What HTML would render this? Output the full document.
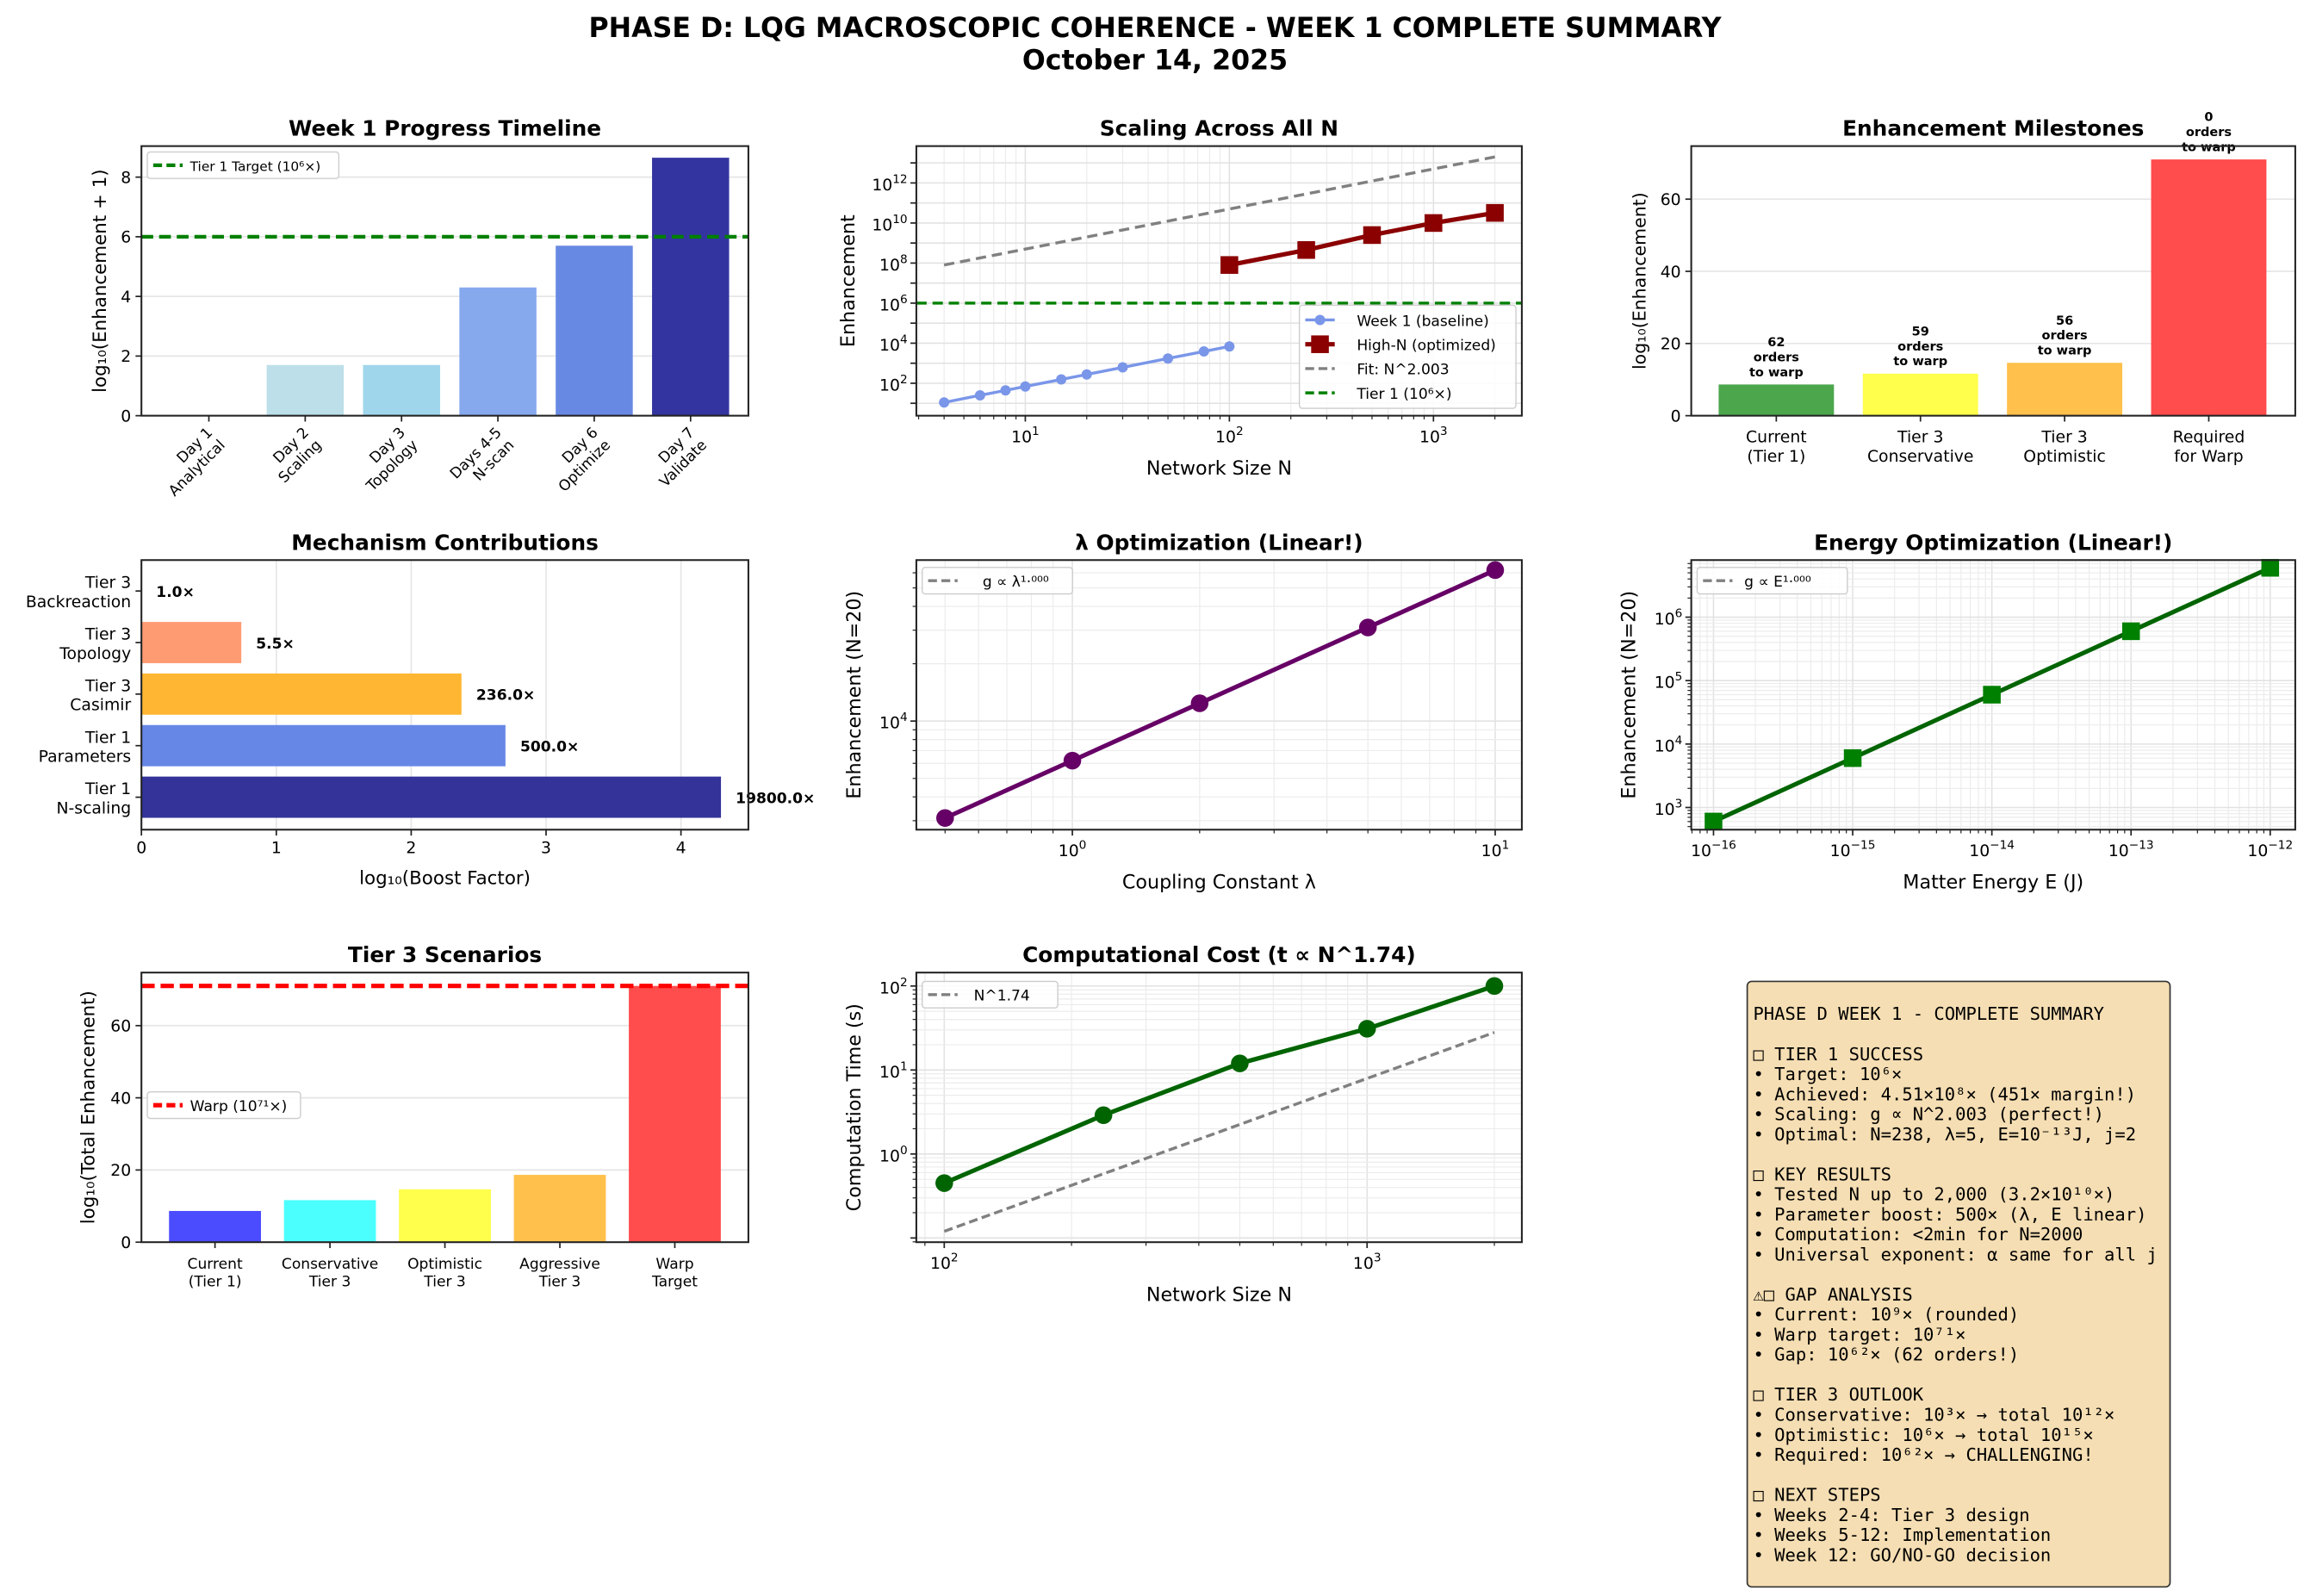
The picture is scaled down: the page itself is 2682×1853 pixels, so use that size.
<!DOCTYPE html>
<html><head><meta charset="utf-8"><title>Phase D Week 1 Summary</title>
<style>
html,body{margin:0;padding:0;background:#fff;}
svg{display:block;font-family:"DejaVu Sans","Liberation Sans",sans-serif;}
.mono{font-family:"DejaVu Sans Mono","Liberation Mono",monospace;}
</style></head>
<body>
<svg id="fig" width="2682" height="1853" viewBox="0 0 1568 1083" xmlns="http://www.w3.org/2000/svg">
<text x="784" y="25" text-anchor="middle" font-size="18.5" font-weight="bold">PHASE D: LQG MACROSCOPIC COHERENCE - WEEK 1 COMPLETE SUMMARY</text>
<text x="784" y="47" text-anchor="middle" font-size="18.5" font-weight="bold">October 14, 2025</text>
<g>
<rect x="1186" y="666" width="287" height="411" rx="3" fill="#f5deb3" stroke="#333" stroke-width="1"/>
<text class="mono" font-size="12" fill="#000" x="1190">
<tspan x="1190" y="692">PHASE D WEEK 1 - COMPLETE SUMMARY</tspan>
<tspan x="1190" y="719.4">□ TIER 1 SUCCESS</tspan>
<tspan x="1190" y="733">• Target: 10⁶×</tspan>
<tspan x="1190" y="746.6">• Achieved: 4.51×10⁸× (451× margin!)</tspan>
<tspan x="1190" y="760.2">• Scaling: g ∝ N^2.003 (perfect!)</tspan>
<tspan x="1190" y="773.8">• Optimal: N=238, λ=5, E=10⁻¹³J, j=2</tspan>
<tspan x="1190" y="801">□ KEY RESULTS</tspan>
<tspan x="1190" y="814.6">• Tested N up to 2,000 (3.2×10¹⁰×)</tspan>
<tspan x="1190" y="828.2">• Parameter boost: 500× (λ, E linear)</tspan>
<tspan x="1190" y="841.8">• Computation: &lt;2min for N=2000</tspan>
<tspan x="1190" y="855.4">• Universal exponent: α same for all j</tspan>
<tspan x="1190" y="882.6">⚠□ GAP ANALYSIS</tspan>
<tspan x="1190" y="896.2">• Current: 10⁹× (rounded)</tspan>
<tspan x="1190" y="909.8">• Warp target: 10⁷¹×</tspan>
<tspan x="1190" y="923.4">• Gap: 10⁶²× (62 orders!)</tspan>
<tspan x="1190" y="950.6">□ TIER 3 OUTLOOK</tspan>
<tspan x="1190" y="964.2">• Conservative: 10³× → total 10¹²×</tspan>
<tspan x="1190" y="977.8">• Optimistic: 10⁶× → total 10¹⁵×</tspan>
<tspan x="1190" y="991.4">• Required: 10⁶²× → CHALLENGING!</tspan>
<tspan x="1190" y="1018.6">□ NEXT STEPS</tspan>
<tspan x="1190" y="1032.2">• Weeks 2-4: Tier 3 design</tspan>
<tspan x="1190" y="1045.8">• Weeks 5-12: Implementation</tspan>
<tspan x="1190" y="1059.4">• Week 12: GO/NO-GO decision</tspan>
</text>
</g>
</svg>
<script>
// ---------- data ----------
const timelineCats = [["Day 1","Analytical"],["Day 2","Scaling"],["Day 3","Topology"],["Days 4-5","N-scan"],["Day 6","Optimize"],["Day 7","Validate"]];
const timelineVals = [0, 1.7, 1.7, 4.3, 5.7, 8.65];
const timelineTarget = 6;
const baselineN = [4, 6, 8, 10, 15, 20, 30, 50, 75, 100];
const baselineG = [11, 25, 44, 69, 155, 275, 620, 1720, 3870, 6880];
const highN = [100, 238, 500, 1000, 2000];
const highG = [8e7, 4.5e8, 2.5e9, 1e10, 3.2e10];
const fitN = [4, 2000];
const fitG = [8e7, 2e13];
const tier1Line = 1e6;
const milestoneCats = [["Current","(Tier 1)"],["Tier 3","Conservative"],["Tier 3","Optimistic"],["Required","for Warp"]];
const milestoneVals = [8.65, 11.65, 14.65, 71];
const milestoneNotes = ["62","59","56","0"];
const mechCats = [["Tier 1","N-scaling"],["Tier 1","Parameters"],["Tier 3","Casimir"],["Tier 3","Topology"],["Tier 3","Backreaction"]];
const mechBoost = [19800, 500, 236, 5.5, 1.0];
const lambdaVals = [0.5, 1, 2, 5, 10];
const lambdaG = [3100, 6200, 12400, 31000, 62000];
const energyVals = [1e-16, 1e-15, 1e-14, 1e-13, 1e-12];
const energyG = [600, 6000, 60000, 600000, 6000000];
const scenarioCats = [["Current","(Tier 1)"],["Conservative","Tier 3"],["Optimistic","Tier 3"],["Aggressive","Tier 3"],["Warp","Target"]];
const scenarioVals = [8.65, 11.65, 14.65, 18.65, 71];
const warpLine = 71;
const costN = [100, 238, 500, 1000, 2000];
const costT = [0.45, 2.9, 12, 31, 100];
const costFitN = [100, 2000];
const costFitT = [0.12, 28];

// ---------- helpers ----------
const NS = 'http://www.w3.org/2000/svg';
const svg = document.getElementById('fig');
function mk(tag, attrs, name, parent) {
  const el = document.createElementNS(NS, tag);
  for (const k in attrs) el.setAttribute(k, attrs[k]);
  
  
  (parent || svg).appendChild(el);
  return el;
}
function txt(x, y, s, attrs, name, parent) {
  const t = mk('text', Object.assign({x: x, y: y}, attrs), name, parent);
  t.textContent = s;
  return t;
}
function lin(d0, d1, r0, r1) { return v => r0 + (v - d0) / (d1 - d0) * (r1 - r0); }
function lg(d0, d1, r0, r1) { return v => r0 + (Math.log10(v) - d0) / (d1 - d0) * (r1 - r0); }
function pow10(x, y, e, anchor, name, g) {
  const t = mk('text', {x: x, y: y, 'text-anchor': anchor, 'font-size': 11}, name, g);
  t.appendChild(document.createTextNode('10'));
  const ts = document.createElementNS(NS, 'tspan');
  ts.setAttribute('font-size', 8);
  ts.setAttribute('dy', -5);
  ts.textContent = String(e).replace('-', '\u2212');
  t.appendChild(ts);
}
function frame(p, name, g) {
  mk('rect', {x: p.x0, y: p.y0, width: p.x1 - p.x0, height: p.y1 - p.y0, fill: 'none', stroke: '#222', 'stroke-width': 1.2}, name, g);
}
function title(p, s, name, g) {
  txt((p.x0 + p.x1) / 2, p.y0 - 7, s, {'text-anchor': 'middle', 'font-size': 14.5, 'font-weight': 'bold'}, name, g);
}
function hline(p, y, stroke, w, name, g, dash) {
  const a = {x1: p.x0, x2: p.x1, y1: y, y2: y, stroke: stroke, 'stroke-width': w};
  if (dash) a['stroke-dasharray'] = dash;
  return mk('line', a, name, g);
}
function vline(p, x, stroke, w, name, g) {
  return mk('line', {x1: x, x2: x, y1: p.y0, y2: p.y1, stroke: stroke, 'stroke-width': w}, name, g);
}
function ytick(p, y, label, name, g) {
  mk('line', {x1: p.x0 - 4, x2: p.x0, y1: y, y2: y, stroke: '#222', 'stroke-width': 1}, name + '-mark', g);
  if (label !== null) txt(p.x0 - 7, y + 4, label, {'text-anchor': 'end', 'font-size': 11}, name + '-label', g);
}
function xtick(p, x, label, name, g) {
  mk('line', {x1: x, x2: x, y1: p.y1, y2: p.y1 + 4, stroke: '#222', 'stroke-width': 1}, name + '-mark', g);
  if (label !== null) txt(x, p.y1 + 16, label, {'text-anchor': 'middle', 'font-size': 11}, name + '-label', g);
}
function logGrid(p, sx, sy, xr, yr, minorX, minorY, g) {
  if (xr) for (let d = xr[0]; d <= xr[1]; d++) for (let m = 1; m < 10; m++) {
    if (m > 1 && !minorX) continue;
    const x = sx(m * Math.pow(10, d));
    if (x < p.x0 || x > p.x1) continue;
    vline(p, x, m === 1 ? '#e2e2e2' : '#ececec', m === 1 ? 0.9 : 0.7, 'x-grid-line', g);
    mk('line', {x1: x, x2: x, y1: p.y1, y2: p.y1 + (m === 1 ? 4 : 2.5), stroke: '#222', 'stroke-width': m === 1 ? 1 : 0.7}, 'x-tick-mark', g);
  }
  if (yr) for (let d = yr[0]; d <= yr[1]; d++) for (let m = 1; m < 10; m++) {
    if (m > 1 && !minorY) continue;
    const y = sy(m * Math.pow(10, d));
    if (y < p.y0 || y > p.y1) continue;
    hline(p, y, m === 1 ? '#e2e2e2' : '#ececec', m === 1 ? 0.9 : 0.7, 'y-grid-line', g);
    mk('line', {x1: p.x0 - (m === 1 ? 4 : 2.5), x2: p.x0, y1: y, y2: y, stroke: '#222', 'stroke-width': m === 1 ? 1 : 0.7}, 'y-tick-mark', g);
  }
}
function legendBox(x, y, w, h, name, g) {
  return mk('rect', {x: x, y: y, width: w, height: h, rx: 2, fill: '#fff', 'fill-opacity': 0.85, stroke: '#ccc', 'stroke-width': 0.8}, name, g);
}
function polyline(xs, ys, sx, sy, attrs, name, g) {
  const pts = xs.map((v, i) => sx(v).toFixed(2) + ',' + sy(ys[i]).toFixed(2)).join(' ');
  return mk('polyline', Object.assign({points: pts, fill: 'none'}, attrs), name, g);
}
function twoLine(x, y, lines, fs, name, g, attrs) {
  const t = mk('text', Object.assign({x: x, y: y, 'text-anchor': 'middle', 'font-size': fs}, attrs || {}), name, g);
  lines.forEach((s, i) => {
    const ts = document.createElementNS(NS, 'tspan');
    ts.setAttribute('x', x);
    ts.setAttribute('dy', i === 0 ? 0 : fs * 1.2);
    ts.textContent = s;
    t.appendChild(ts);
  });
  return t;
}

// ---------- Panel 1: timeline ----------
(function () {
  const p = {x0: 96, x1: 508, y0: 99, y1: 282};
  const g = mk('g', {}, 'timeline-panel');
  const sx = lin(-0.7, 5.6, p.x0, p.x1), sy = lin(0, 9.04, p.y1, p.y0);
  [0, 2, 4, 6, 8].forEach(v => { hline(p, sy(v), '#e6e6e6', 1, 'y-grid-line', g); ytick(p, sy(v), String(v), 'y-tick', g); });
  const cols = ['#c0dfea', '#bcdfe9', '#a0d6ec', '#86a9ee', '#6889e3', '#3434a0'];
  timelineVals.forEach((v, i) => {
    const bw = 0.8 * (sx(1) - sx(0));
    mk('rect', {x: sx(i) - bw / 2, y: sy(v), width: bw, height: sy(0) - sy(v), fill: cols[i]}, 'timeline-bar', g);
    xtick(p, sx(i), null, 'x-tick', g);
    const t = mk('text', {'text-anchor': 'end', 'font-size': 10, transform: 'translate(' + (sx(i) + 3) + ',' + (p.y1 + 12) + ') rotate(-45)'}, 'x-tick-label', g);
    timelineCats[i].forEach((s, j) => {
      const ts = document.createElementNS(NS, 'tspan');
      ts.setAttribute('x', j === 0 ? 0 : 0);
      ts.setAttribute('y', j * 12);
      ts.textContent = s;
      t.appendChild(ts);
    });
  });
  hline(p, sy(timelineTarget), '#008000', 2.5, 'tier1-target-line', g, '8,4');
  legendBox(100, 103, 130, 18, 'legend', g);
  mk('line', {x1: 104, x2: 124, y1: 112, y2: 112, stroke: '#008000', 'stroke-width': 2.5, 'stroke-dasharray': '6,3'}, 'legend-swatch', g);
  txt(129, 116, 'Tier 1 Target (10⁶×)', {'font-size': 9}, 'legend-entry', g);
  frame(p, 'timeline-frame', g);
  title(p, 'Week 1 Progress Timeline', 'timeline-title', g);
  txt(0, 0, 'log₁₀(Enhancement + 1)', {'font-size': 12.5, 'text-anchor': 'middle', transform: 'translate(72,' + ((p.y0 + p.y1) / 2) + ') rotate(-90)'}, 'y-axis-title', g);
})();

// ---------- Panel 2: scaling ----------
(function () {
  const p = {x0: 622, x1: 1033, y0: 99, y1: 282};
  const g = mk('g', {}, 'scaling-panel');
  const sx = lg(0.466, 3.433, p.x0, p.x1), sy = lg(0.38, 13.84, p.y1, p.y0);
  logGrid(p, sx, sy, [0, 3], [0, 13], true, false, g);
  [2, 4, 6, 8, 10, 12].forEach(e => pow10(p.x0 - 6, sy(Math.pow(10, e)) + 5, e, 'end', 'y-tick-label', g));
  [1, 2, 3].forEach(e => pow10(sx(Math.pow(10, e)), p.y1 + 18, e, 'middle', 'x-tick-label', g));
  polyline(fitN, fitG, sx, sy, {stroke: '#808080', 'stroke-width': 2, 'stroke-dasharray': '7,4'}, 'fit-line', g);
  hline(p, sy(tier1Line), '#008000', 2, 'tier1-line', g, '7,4');
  polyline(baselineN, baselineG, sx, sy, {stroke: '#7a96e9', 'stroke-width': 2}, 'baseline-line', g);
  baselineN.forEach((n, i) => mk('circle', {cx: sx(n), cy: sy(baselineG[i]), r: 3.5, fill: '#7a96e9'}, 'baseline-point', g));
  polyline(highN, highG, sx, sy, {stroke: '#8b0000', 'stroke-width': 3}, 'high-n-line', g);
  highN.forEach((n, i) => mk('rect', {x: sx(n) - 6, y: sy(highG[i]) - 6, width: 12, height: 12, fill: '#8b0000'}, 'high-n-point', g));
  legendBox(882, 207, 147, 70, 'legend', g);
  const L = [['#7a96e9', 'Week 1 (baseline)', 'c'], ['#8b0000', 'High-N (optimized)', 's'], ['#808080', 'Fit: N^2.003', 'd'], ['#008000', 'Tier 1 (10⁶×)', 'd']];
  L.forEach((e, i) => {
    const y = 217 + i * 16.5;
    mk('line', {x1: 886, x2: 906, y1: y, y2: y, stroke: e[0], 'stroke-width': e[2] === 's' ? 3 : 2, 'stroke-dasharray': e[2] === 'd' ? '6,3' : 'none'}, 'legend-swatch', g);
    if (e[2] === 'c') mk('circle', {cx: 896, cy: y, r: 3.5, fill: e[0]}, 'legend-marker', g);
    if (e[2] === 's') mk('rect', {x: 890, y: y - 6, width: 12, height: 12, fill: e[0]}, 'legend-marker', g);
    txt(921, y + 4, e[1], {'font-size': 10}, 'legend-entry', g);
  });
  frame(p, 'scaling-frame', g);
  title(p, 'Scaling Across All N', 'scaling-title', g);
  txt((p.x0 + p.x1) / 2, 322, 'Network Size N', {'text-anchor': 'middle', 'font-size': 13}, 'x-axis-title', g);
  txt(0, 0, 'Enhancement', {'font-size': 13, 'text-anchor': 'middle', transform: 'translate(580,' + ((p.y0 + p.y1) / 2) + ') rotate(-90)'}, 'y-axis-title', g);
})();

// ---------- Panel 3: milestones ----------
(function () {
  const p = {x0: 1148, x1: 1558, y0: 99, y1: 282};
  const g = mk('g', {}, 'milestones-panel');
  const sx = lin(-0.59, 3.6, p.x0, p.x1), sy = lin(0, 74.7, p.y1, p.y0);
  [0, 20, 40, 60].forEach(v => { hline(p, sy(v), '#e6e6e6', 1, 'y-grid-line', g); ytick(p, sy(v), String(v), 'y-tick', g); });
  const cols = ['#4ca64c', '#ffff4c', '#ffc04c', '#ff4c4c'];
  const bw = 0.8 * (sx(1) - sx(0));
  milestoneVals.forEach((v, i) => {
    mk('rect', {x: sx(i) - bw / 2, y: sy(v), width: bw, height: sy(0) - sy(v), fill: cols[i]}, 'milestone-bar', g);
    xtick(p, sx(i), null, 'x-tick', g);
    twoLine(sx(i), p.y1 + 18, milestoneCats[i], 11, 'x-tick-label', g);
    twoLine(sx(i), sy(v) - 26, [milestoneNotes[i], 'orders', 'to warp'], 8.5, 'milestone-note', g, {'font-weight': 'bold'});
  });
  frame(p, 'milestones-frame', g);
  title(p, 'Enhancement Milestones', 'milestones-title', g);
  txt(0, 0, 'log₁₀(Enhancement)', {'font-size': 12, 'text-anchor': 'middle', transform: 'translate(1117,' + ((p.y0 + p.y1) / 2) + ') rotate(-90)'}, 'y-axis-title', g);
})();

// ---------- Panel 4: mechanisms ----------
(function () {
  const p = {x0: 96, x1: 508, y0: 380, y1: 563};
  const g = mk('g', {}, 'mechanisms-panel');
  const sx = lin(0, 4.5, p.x0, p.x1), sy = lin(-0.63, 4.6, p.y1, p.y0);
  [0, 1, 2, 3, 4].forEach(v => { vline(p, sx(v), '#e6e6e6', 1, 'x-grid-line', g); xtick(p, sx(v), String(v), 'x-tick', g); });
  const cols = ['#333399', '#6787e7', '#ffb733', '#ff9b73', '#ff9b73'];
  const bh = 0.8 * (sy(0) - sy(1));
  mechBoost.forEach((b, i) => {
    const v = Math.log10(b);
    mk('rect', {x: sx(0), y: sy(i) - bh / 2, width: sx(v) - sx(0), height: bh, fill: cols[i]}, 'mechanism-bar', g);
    txt(sx(v) + 10, sy(i) + 4, b.toFixed(1) + '×', {'font-size': 10, 'font-weight': 'bold'}, 'mechanism-value', g);
    ytick(p, sy(i), null, 'y-tick', g);
    const t = mk('text', {x: p.x0 - 7, y: sy(i) - 2, 'text-anchor': 'end', 'font-size': 11}, 'y-tick-label', g);
    mechCats[i].forEach((s, j) => {
      const ts = document.createElementNS(NS, 'tspan');
      ts.setAttribute('x', p.x0 - 7);
      ts.setAttribute('dy', j === 0 ? 0 : 13);
      ts.textContent = s;
      t.appendChild(ts);
    });
  });
  frame(p, 'mechanisms-frame', g);
  title(p, 'Mechanism Contributions', 'mechanisms-title', g);
  txt((p.x0 + p.x1) / 2, 600, 'log₁₀(Boost Factor)', {'text-anchor': 'middle', 'font-size': 12.5}, 'x-axis-title', g);
})();

// ---------- Panel 5: lambda ----------
(function () {
  const p = {x0: 622, x1: 1033, y0: 380, y1: 563};
  const g = mk('g', {}, 'lambda-panel');
  const sx = lg(-0.369, 1.063, p.x0, p.x1), sy = lg(3.43, 4.845, p.y1, p.y0);
  logGrid(p, sx, sy, [-1, 1], [3, 4], true, true, g);
  pow10(sx(1), p.y1 + 18, 0, 'middle', 'x-tick-label', g);
  pow10(sx(10), p.y1 + 18, 1, 'middle', 'x-tick-label', g);
  pow10(p.x0 - 6, sy(1e4) + 5, 4, 'end', 'y-tick-label', g);
  polyline(lambdaVals, lambdaG, sx, sy, {stroke: '#808080', 'stroke-width': 2, 'stroke-dasharray': '6,3'}, 'lambda-fit-line', g);
  polyline(lambdaVals, lambdaG, sx, sy, {stroke: '#660066', 'stroke-width': 3}, 'lambda-line', g);
  lambdaVals.forEach((l, i) => mk('circle', {cx: sx(l), cy: sy(lambdaG[i]), r: 6, fill: '#660066'}, 'lambda-point', g));
  legendBox(626, 385, 102, 18, 'legend', g);
  mk('line', {x1: 630, x2: 650, y1: 394, y2: 394, stroke: '#808080', 'stroke-width': 2, 'stroke-dasharray': '6,3'}, 'legend-swatch', g);
  txt(667, 398, 'g ∝ λ¹·⁰⁰⁰', {'font-size': 10}, 'legend-entry', g);
  frame(p, 'lambda-frame', g);
  title(p, 'λ Optimization (Linear!)', 'lambda-title', g);
  txt((p.x0 + p.x1) / 2, 603, 'Coupling Constant λ', {'text-anchor': 'middle', 'font-size': 13}, 'x-axis-title', g);
  txt(0, 0, 'Enhancement (N=20)', {'font-size': 13, 'text-anchor': 'middle', transform: 'translate(584,' + ((p.y0 + p.y1) / 2) + ') rotate(-90)'}, 'y-axis-title', g);
})();

// ---------- Panel 6: energy ----------
(function () {
  const p = {x0: 1148, x1: 1558, y0: 380, y1: 563};
  const g = mk('g', {}, 'energy-panel');
  const sx = lg(-16.16, -11.82, p.x0, p.x1), sy = lg(2.65, 6.9, p.y1, p.y0);
  logGrid(p, sx, sy, [-17, -12], [2, 6], true, true, g);
  [-16, -15, -14, -13, -12].forEach(e => pow10(sx(Math.pow(10, e)), p.y1 + 18, e, 'middle', 'x-tick-label', g));
  [3, 4, 5, 6].forEach(e => pow10(p.x0 - 6, sy(Math.pow(10, e)) + 5, e, 'end', 'y-tick-label', g));
  polyline(energyVals, energyG, sx, sy, {stroke: '#808080', 'stroke-width': 2, 'stroke-dasharray': '6,3'}, 'energy-fit-line', g);
  polyline(energyVals, energyG, sx, sy, {stroke: '#006400', 'stroke-width': 3}, 'energy-line', g);
  energyVals.forEach((e, i) => mk('rect', {x: sx(e) - 6, y: sy(energyG[i]) - 6, width: 12, height: 12, fill: '#008000'}, 'energy-point', g));
  legendBox(1152, 385, 102, 18, 'legend', g);
  mk('line', {x1: 1156, x2: 1176, y1: 394, y2: 394, stroke: '#808080', 'stroke-width': 2, 'stroke-dasharray': '6,3'}, 'legend-swatch', g);
  txt(1184, 398, 'g ∝ E¹·⁰⁰⁰', {'font-size': 10}, 'legend-entry', g);
  frame(p, 'energy-frame', g);
  title(p, 'Energy Optimization (Linear!)', 'energy-title', g);
  txt((p.x0 + p.x1) / 2, 603, 'Matter Energy E (J)', {'text-anchor': 'middle', 'font-size': 13}, 'x-axis-title', g);
  txt(0, 0, 'Enhancement (N=20)', {'font-size': 13, 'text-anchor': 'middle', transform: 'translate(1110,' + ((p.y0 + p.y1) / 2) + ') rotate(-90)'}, 'y-axis-title', g);
})();

// ---------- Panel 7: tier 3 scenarios ----------
(function () {
  const p = {x0: 96, x1: 508, y0: 660, y1: 843};
  const g = mk('g', {}, 'scenarios-panel');
  const sx = lin(-0.64, 4.64, p.x0, p.x1), sy = lin(0, 74.7, p.y1, p.y0);
  [0, 20, 40, 60].forEach(v => { hline(p, sy(v), '#e6e6e6', 1, 'y-grid-line', g); ytick(p, sy(v), String(v), 'y-tick', g); });
  const cols = ['#4c4cff', '#4cffff', '#ffff4c', '#ffc04c', '#ff4c4c'];
  const bw = 0.8 * (sx(1) - sx(0));
  scenarioVals.forEach((v, i) => {
    mk('rect', {x: sx(i) - bw / 2, y: sy(v), width: bw, height: sy(0) - sy(v), fill: cols[i]}, 'scenario-bar', g);
    xtick(p, sx(i), null, 'x-tick', g);
    twoLine(sx(i), p.y1 + 18, scenarioCats[i], 10, 'x-tick-label', g);
  });
  hline(p, sy(warpLine), '#ff0000', 3, 'warp-line', g, '9,4');
  legendBox(100, 741, 104, 18, 'legend', g);
  mk('line', {x1: 104, x2: 124, y1: 750, y2: 750, stroke: '#ff0000', 'stroke-width': 3, 'stroke-dasharray': '6,3'}, 'legend-swatch', g);
  txt(129, 754, 'Warp (10⁷¹×)', {'font-size': 10}, 'legend-entry', g);
  frame(p, 'scenarios-frame', g);
  title(p, 'Tier 3 Scenarios', 'scenarios-title', g);
  txt(0, 0, 'log₁₀(Total Enhancement)', {'font-size': 12.5, 'text-anchor': 'middle', transform: 'translate(64,' + ((p.y0 + p.y1) / 2) + ') rotate(-90)'}, 'y-axis-title', g);
})();

// ---------- Panel 8: computational cost ----------
(function () {
  const p = {x0: 622, x1: 1033, y0: 660, y1: 843};
  const g = mk('g', {}, 'cost-panel');
  const sx = lg(1.934, 3.366, p.x0, p.x1), sy = lg(-1.05, 2.16, p.y1, p.y0);
  logGrid(p, sx, sy, [1, 3], [-2, 2], true, true, g);
  pow10(sx(100), p.y1 + 18, 2, 'middle', 'x-tick-label', g);
  pow10(sx(1000), p.y1 + 18, 3, 'middle', 'x-tick-label', g);
  [0, 1, 2].forEach(e => pow10(p.x0 - 6, sy(Math.pow(10, e)) + 5, e, 'end', 'y-tick-label', g));
  polyline(costFitN, costFitT, sx, sy, {stroke: '#808080', 'stroke-width': 2, 'stroke-dasharray': '6,3'}, 'cost-fit-line', g);
  polyline(costN, costT, sx, sy, {stroke: '#006400', 'stroke-width': 3}, 'cost-line', g);
  costN.forEach((n, i) => mk('circle', {cx: sx(n), cy: sy(costT[i]), r: 6, fill: '#006400'}, 'cost-point', g));
  legendBox(626, 666, 92, 18, 'legend', g);
  mk('line', {x1: 630, x2: 650, y1: 675, y2: 675, stroke: '#808080', 'stroke-width': 2, 'stroke-dasharray': '6,3'}, 'legend-swatch', g);
  txt(661, 679, 'N^1.74', {'font-size': 10}, 'legend-entry', g);
  frame(p, 'cost-frame', g);
  title(p, 'Computational Cost (t ∝ N^1.74)', 'cost-title', g);
  txt((p.x0 + p.x1) / 2, 883, 'Network Size N', {'text-anchor': 'middle', 'font-size': 13}, 'x-axis-title', g);
  txt(0, 0, 'Computation Time (s)', {'font-size': 13, 'text-anchor': 'middle', transform: 'translate(584,' + ((p.y0 + p.y1) / 2) + ') rotate(-90)'}, 'y-axis-title', g);
})();
</script>
</body></html>
